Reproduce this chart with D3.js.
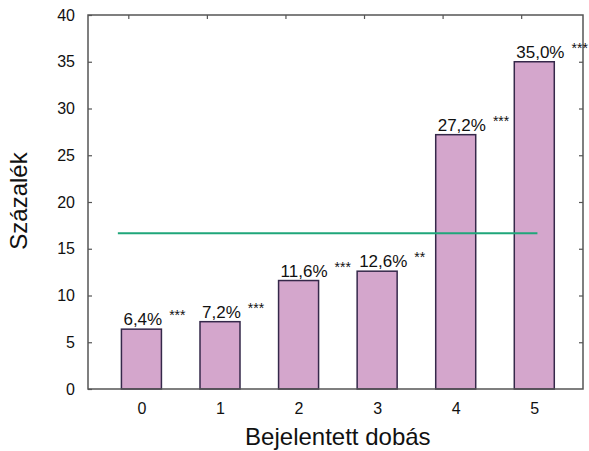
<!DOCTYPE html>
<html>
<head>
<meta charset="utf-8">
<script src="https://cdn.jsdelivr.net/npm/d3@7"></script>
<style>
  body { margin: 0; background: #fff; }
  text { font-family: 'Liberation Sans', Arial, sans-serif; fill: #111; }
</style>
</head>
<body>
<div id="chart"></div>
<script>
const categories = [0, 1, 2, 3, 4, 5];
const values = [6.4, 7.2, 11.6, 12.6, 27.2, 35.0];
const labels = ['6,4%', '7,2%', '11,6%', '12,6%', '27,2%', '35,0%'];
const stars = ['***', '***', '***', '**', '***', '***'];
const yTicks = [0, 5, 10, 15, 20, 25, 30, 35, 40];
const chanceLevel = 100 / 6;
const chanceExtent = [-0.3, 5.04];

const W = 589, H = 451;
const margin = { top: 15, right: 6, bottom: 62, left: 88 };
const width = W - margin.left - margin.right;
const height = H - margin.top - margin.bottom;

const svg = d3.select('#chart').append('svg').attr('width', W).attr('height', H);
const g = svg.append('g').attr('transform', 'translate(' + margin.left + ',' + margin.top + ')');

const x = d3.scaleLinear().domain([-0.68, 5.62]).range([0, width]);
const y = d3.scaleLinear().domain([0, 40]).range([height, 0]);
const barW = 40;

// bars
g.selectAll('rect.bar')
  .data(values)
  .enter()
  .append('rect')
  .attr('class', 'bar')
  .attr('x', (d, i) => x(categories[i]) - barW / 2)
  .attr('y', (d) => y(d))
  .attr('width', barW)
  .attr('height', (d) => y(0) - y(d))
  .style('fill', '#d4a6cc')
  .style('stroke', '#35284a')
  .style('stroke-width', 1.5);

// chance line
g.append('line')
  .attr('x1', x(chanceExtent[0]))
  .attr('x2', x(chanceExtent[1]))
  .attr('y1', y(chanceLevel))
  .attr('y2', y(chanceLevel))
  .style('stroke', '#1fa67a')
  .style('stroke-width', 2);

// frame
g.append('rect')
  .attr('width', width)
  .attr('height', height)
  .style('fill', 'none')
  .style('stroke', '#555')
  .style('stroke-width', 1.5);

// y ticks (left + mirrored right), inward
const yAxisL = g.append('g').call(d3.axisLeft(y).tickValues(yTicks).tickSizeInner(-4).tickSizeOuter(0).tickPadding(13));
const yAxisR = g.append('g').attr('transform', 'translate(' + width + ',0)')
  .call(d3.axisRight(y).tickValues(yTicks.slice(1, -1)).tickSizeInner(-4).tickSizeOuter(0).tickFormat(''));
[yAxisL, yAxisR].forEach((a) => {
  a.select('.domain').remove();
  a.selectAll('line').style('stroke', '#555').style('stroke-width', 1.2);
});
yAxisL.selectAll('text').style('font-size', '16px').style('font-family', "'Liberation Sans', Arial, sans-serif");

// x tick labels
const xAxis = g.append('g').attr('transform', 'translate(0,' + height + ')')
  .call(d3.axisBottom(x).tickValues(categories).tickSize(0).tickPadding(14).tickFormat(d3.format('d')));
xAxis.select('.domain').remove();
xAxis.selectAll('text').style('font-size', '16px').style('font-family', "'Liberation Sans', Arial, sans-serif");

// top mirrored ticks (offset as in source)
const topAxis = g.append('g')
  .call(d3.axisTop(x).tickValues(categories.map((c) => c - 0.167)).tickSizeInner(-4).tickSizeOuter(0).tickFormat(''));
topAxis.select('.domain').remove();
topAxis.selectAll('line').style('stroke', '#555').style('stroke-width', 1.2);

// bar labels
const lab = g.selectAll('text.lab')
  .data(values)
  .enter()
  .append('text')
  .attr('class', 'lab')
  .attr('x', (d, i) => x(categories[i]) - barW / 2 + 2)
  .attr('y', (d) => y(d) - 4)
  .style('font-size', '17px');
lab.append('tspan').text((d, i) => labels[i]);
lab.append('tspan')
  .attr('dx', 7)
  .attr('dy', -5)
  .style('font-size', '14px')
  .text((d, i) => stars[i]);

// axis titles
svg.append('text')
  .attr('x', margin.left + x(2.5))
  .attr('y', 445)
  .style('text-anchor', 'middle')
  .style('font-size', '24px')
  .text('Bejelentett dobás');

svg.append('text')
  .attr('transform', 'translate(27,201) rotate(-90)')
  .style('text-anchor', 'middle')
  .style('font-size', '24px')
  .text('Százalék');
</script>
</body>
</html>
